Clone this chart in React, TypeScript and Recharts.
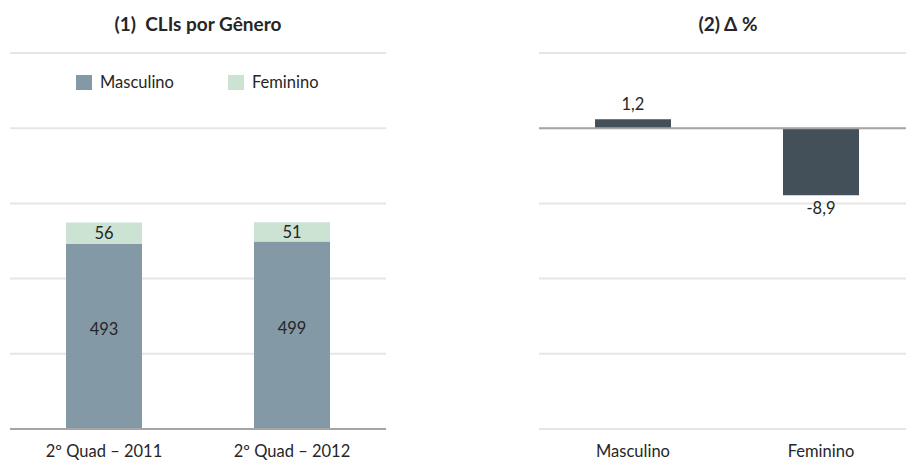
import React from "react";
import {
  BarChart,
  Bar,
  XAxis,
  YAxis,
  CartesianGrid,
  LabelList,
  Legend,
  ReferenceLine,
} from "recharts";

const periods = ["2º Quad – 2011", "2º Quad – 2012"];
const masculino = [493, 499];
const feminino = [56, 51];
const leftTicks = [0, 200, 400, 600, 800, 1000];

const genders = ["Masculino", "Feminino"];
const deltaPct = [1.2, -8.9];
const rightTicks = [-40, -30, -20, -10, 0, 10];

const FONT = "Lato, 'Open Sans', sans-serif";
const FS = 16.5;
const C_MASC = "#8499A6";
const C_FEM = "#CCE2D3";
const C_DARK = "#434F59";
const C_GRID = "#E6E6E6";
const C_AXIS = "#A6A6A6";
const C_TEXT = "#262626";

const leftData = periods.map((p, i) => ({
  period: p,
  Masculino: masculino[i],
  Feminino: feminino[i],
}));

const rightData = genders.map((g, i) => ({ gender: g, delta: deltaPct[i] }));

const fmt = (v: any) => String(v).replace(".", ",");

const renderLegend = () => {
  const items = [
    { name: "Masculino", color: C_MASC },
    { name: "Feminino", color: C_FEM },
  ];
  return (
    <div style={{ display: "flex", fontFamily: FONT, fontSize: FS, color: C_TEXT, lineHeight: "20px" }}>
      {items.map((it, i) => (
        <div
          key={it.name}
          style={{ display: "flex", alignItems: "center", marginLeft: i === 0 ? 76 : 54 }}
        >
          <span
            style={{ display: "inline-block", width: 16, height: 15, background: it.color, marginRight: 8 }}
          />
          <span>{it.name}</span>
        </div>
      ))}
    </div>
  );
};

const deltaLabel = (props: any) => {
  const { x, y, width, height, value } = props;
  const top = Math.min(y, y + height);
  const bottom = Math.max(y, y + height);
  const cx = x + width / 2;
  const ty = value >= 0 ? top - 9 : bottom + 19;
  return (
    <text
      x={cx}
      y={ty}
      textAnchor="middle"
      fontFamily={FONT}
      fontSize={FS}
      fill={C_TEXT}
    >
      {fmt(value)}
    </text>
  );
};

export default function App() {
  return (
    <div
      style={{
        position: "absolute",
        left: 0,
        top: 0,
        width: 906,
        height: 461,
        overflow: "hidden",
        background: "#fff",
        fontFamily: FONT,
      }}
    >
      <div
        style={{
          position: "absolute",
          left: 0,
          top: 12,
          width: 396,
          textAlign: "center",
          fontWeight: 700,
          fontSize: 19,
          color: C_TEXT,
          whiteSpace: "pre",
        }}
      >
        {"(1)  CLIs por Gênero"}
      </div>
      <div
        style={{
          position: "absolute",
          left: 453,
          top: 12,
          width: 550,
          textAlign: "center",
          fontWeight: 700,
          fontSize: 19,
          color: C_TEXT,
        }}
      >
        (2) Δ %
      </div>

      <div style={{ position: "absolute", left: 0, top: 0 }}>
        <BarChart
          width={400}
          height={461}
          data={leftData}
          margin={{ top: 53, right: 14, left: 10, bottom: 7 }}
          barCategoryGap={0}
        >
          <CartesianGrid vertical={false} stroke={C_GRID} strokeWidth={2} />
          <YAxis hide domain={[0, 1000]} ticks={leftTicks} />
          <XAxis
            dataKey="period"
            height={25}
            tickLine={false}
            tickSize={0}
            tickMargin={16}
            axisLine={false}
            tick={{ fontFamily: FONT, fontSize: FS, fill: C_TEXT }}
          />
          <Legend
            verticalAlign="middle"
            align="center"
            layout="horizontal"
            content={renderLegend}
            wrapperStyle={{ position: "absolute", top: 72, left: 0, width: 400 }}
          />
          <Bar dataKey="Masculino" stackId="a" fill={C_MASC} barSize={76} isAnimationActive={false}>
            <LabelList
              dataKey="Masculino"
              position="center"
              dy={-7}
              style={{ fontFamily: FONT, fontSize: FS, fill: C_TEXT }}
            />
          </Bar>
          <Bar dataKey="Feminino" stackId="a" fill={C_FEM} barSize={76} isAnimationActive={false}>
            <LabelList
              dataKey="Feminino"
              position="center"
              style={{ fontFamily: FONT, fontSize: FS, fill: C_TEXT }}
            />
          </Bar>
          <ReferenceLine y={0} stroke={C_AXIS} strokeWidth={2} />
        </BarChart>
      </div>

      <div style={{ position: "absolute", left: 453, top: 0 }}>
        <BarChart
          width={470}
          height={461}
          data={rightData}
          margin={{ top: 53, right: 8, left: 86, bottom: 7 }}
          barCategoryGap={0}
        >
          <CartesianGrid vertical={false} stroke={C_GRID} strokeWidth={2} />
          <YAxis hide domain={[-40, 10]} ticks={rightTicks} />
          <XAxis
            dataKey="gender"
            height={25}
            tickLine={false}
            tickSize={0}
            tickMargin={16}
            axisLine={false}
            tick={{ fontFamily: FONT, fontSize: FS, fill: C_TEXT }}
          />
          <Bar dataKey="delta" fill={C_DARK} barSize={76} isAnimationActive={false}>
            <LabelList dataKey="delta" content={deltaLabel} />
          </Bar>
          <ReferenceLine y={0} stroke={C_AXIS} strokeWidth={2} />
        </BarChart>
      </div>
    </div>
  );
}
